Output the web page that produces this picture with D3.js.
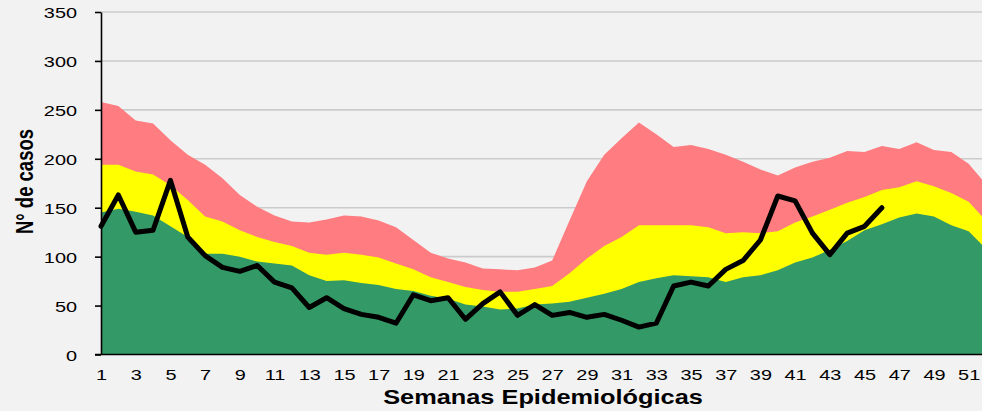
<!DOCTYPE html>
<html>
<head>
<meta charset="utf-8">
<script src="https://cdn.jsdelivr.net/npm/d3@7"></script>
<style>
  body { margin: 0; background: #f2f2f2; }
  svg { display: block; background: #f2f2f2; }
  .tick-label { font-family: "Liberation Sans", Arial, sans-serif; font-size: 15.3px; fill: #000; }
  .title { font-family: "Liberation Sans", Arial, sans-serif; font-weight: bold; fill: #000; }
</style>
</head>
<body>
<svg width="982" height="411"></svg>
<script>
const weeks = d3.range(1, 53);
const yTicks = [0, 50, 100, 150, 200, 250, 300, 350];
const xTickWeeks = d3.range(1, 52, 2);

// upper limit of the alarm zone (red)
const alarma = [258, 254, 239, 236, 219, 204, 194, 180, 163, 151, 142, 136, 135, 138, 142, 141, 137, 130, 117, 104,
  98, 94, 88, 87, 86, 89, 96, 137, 177, 204, 221, 237, 225, 212, 214, 210, 204, 197, 189, 183,
  191, 197, 201, 208, 207, 213, 210, 217, 209, 207, 195, 174];
// security zone (yellow)
const seguridad = [194, 194, 187, 184, 173, 158, 141, 136, 127, 120, 115, 111, 104, 102, 104, 102, 99, 93, 87, 79,
  74, 69, 66, 64, 64, 67, 70, 83, 98, 111, 120, 132, 132, 132, 132, 130, 124, 125, 124, 126,
  135, 141, 148, 155, 161, 168, 171, 177, 172, 165, 156, 137];
// success zone (green)
const exito = [145, 149, 146, 142, 131, 120, 103, 103, 100, 95, 93, 91, 81, 75, 76, 73, 71, 67, 65, 60,
  57, 51, 49, 46, 47, 51, 52, 54, 58, 62, 67, 74, 78, 81, 80, 79, 74, 79, 81, 86,
  94, 99, 107, 116, 127, 133, 140, 144, 141, 132, 126, 108];
// cases observed this year
const casos = [131, 163, 125, 127, 178, 120, 101, 89, 85, 91, 74, 68, 48, 58, 47, 41, 38, 32, 61, 55,
  58, 36, 52, 64, 40, 51, 40, 43, 38, 41, 35, 28, 32, 70, 74, 70, 87, 96, 117, 162,
  157, 124, 102, 124, 131, 150];

const render = () => {
  const svg = d3.select("svg");
  const width = +svg.attr("width");
  const stretch = 1.3; // text in the reference is widened horizontally
  const plot = { left: 101, right: 986, top: 12, bottom: 354.5 };

  const xScale = d3.scaleLinear().domain([1, 52]).range([plot.left, plot.right]);
  const yScale = d3.scaleLinear().domain([0, 350]).range([plot.bottom, plot.top]);

  // gridlines
  svg.append("g")
    .selectAll("line")
    .data(yTicks.filter((d) => d > 0))
    .enter()
    .append("line")
    .attr("x1", plot.left)
    .attr("x2", width)
    .attr("y1", (d) => yScale(d))
    .attr("y2", (d) => yScale(d))
    .attr("stroke", "#cbcbcb")
    .attr("stroke-width", 1.6);

  const area = (values) =>
    d3.area()
      .x((d, i) => xScale(weeks[i]))
      .y0(yScale(0))
      .y1((d) => yScale(d))(values);

  svg.append("path").attr("d", area(alarma)).attr("fill", "#ff7c80");
  svg.append("path").attr("d", area(seguridad)).attr("fill", "#ffff00");
  svg.append("path").attr("d", area(exito)).attr("fill", "#339966");

  const line = d3.line()
    .x((d, i) => xScale(weeks[i]))
    .y((d) => yScale(d));
  svg.append("path")
    .attr("d", line(casos))
    .attr("fill", "none")
    .attr("stroke", "#000")
    .attr("stroke-width", 5)
    .attr("stroke-linejoin", "round")
    .attr("stroke-linecap", "round");

  // y axis
  const yAxis = d3.axisLeft(yScale).tickValues(yTicks).tickSize(6).tickSizeOuter(0);
  const gy = svg.append("g")
    .attr("transform", `translate(${plot.left},0)`)
    .call(yAxis);
  gy.select(".domain").attr("stroke", "#000").attr("stroke-width", 1.6);
  gy.selectAll(".tick line").attr("stroke", "#000").attr("stroke-width", 1.6);
  gy.selectAll(".tick text")
    .attr("class", "tick-label")
    .attr("x", -24 / stretch)
    .attr("dy", "0.36em")
    .attr("transform", `scale(${stretch},1)`);

  // x axis
  const xAxis = d3.axisBottom(xScale).tickValues(xTickWeeks).tickSize(0).tickSizeOuter(0);
  const gx = svg.append("g")
    .attr("transform", `translate(0,${plot.bottom})`)
    .call(xAxis);
  gx.select(".domain").remove();
  gx.append("line")
    .attr("x1", plot.left - 6)
    .attr("x2", width)
    .attr("stroke", "#000")
    .attr("stroke-width", 1.6);
  gx.selectAll(".tick text")
    .attr("class", "tick-label")
    .attr("y", 0)
    .attr("dy", 0)
    .attr("transform", `translate(0,25) scale(${stretch},1)`);

  svg.append("text")
    .attr("class", "title")
    .attr("text-anchor", "middle")
    .attr("font-size", 19.5)
    .attr("transform", `translate(543,404) scale(${stretch},1)`)
    .text("Semanas Epidemiológicas");

  svg.append("text")
    .attr("class", "title")
    .attr("text-anchor", "middle")
    .attr("font-size", 18.5)
    .attr("transform", `translate(33,181.5) rotate(-90) scale(1,${stretch})`)
    .text("N° de casos");
};

render();
</script>
</body>
</html>
